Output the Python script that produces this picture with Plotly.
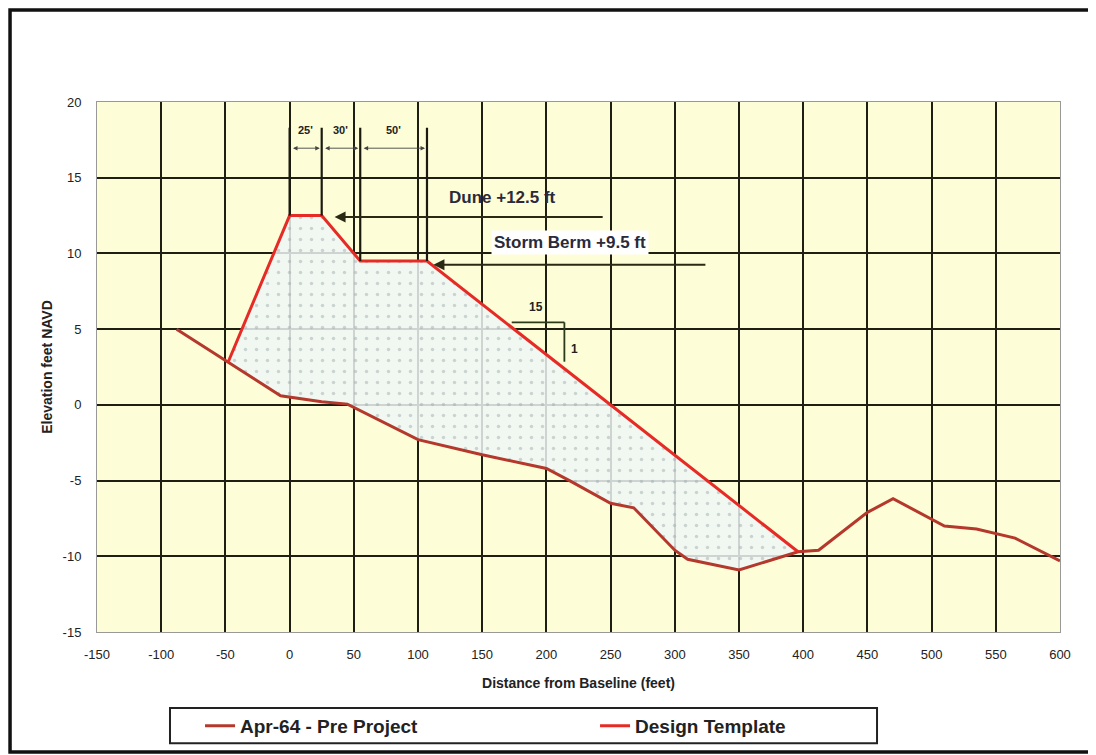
import plotly.graph_objects as go

# ---- data ----
pre_x = [-88, -48, -7, 25, 45, 100, 150, 200, 218, 250, 268, 300, 310, 350, 396, 412, 450, 470, 510, 535, 565, 600]
pre_y = [5.0, 2.8, 0.6, 0.2, 0.05, -2.3, -3.3, -4.2, -5.0, -6.5, -6.8, -9.6, -10.2, -10.9, -9.7, -9.6, -7.1, -6.2, -8.0, -8.2, -8.8, -10.3]

design_x = [-48, 0, 25, 55, 107, 250, 396]
design_y = [2.8, 12.5, 12.5, 9.5, 9.5, 0.0, -9.7]

x_ticks = list(range(-150, 601, 50))
y_ticks = list(range(-15, 21, 5))
x_tick_text = [str(v) for v in x_ticks]
y_tick_text = [str(v) for v in y_ticks]

dim_labels = ["25'", "30'", "50'"]
dune_label = "Dune +12.5 ft"
berm_label = "Storm Berm +9.5 ft"
slope_run_label = "15"
slope_rise_label = "1"

FONT = "Liberation Sans, Arial, sans-serif"
PRE_COLOR = "#b4382c"
DES_COLOR = "#e62b26"
GRID = "#1e1e12"

fig = go.Figure()

# shaded fill area between design template and pre-project profile
poly_x = list(design_x)
poly_y = list(design_y)
for xv, yv in reversed(list(zip(pre_x, pre_y))):
    if design_x[0] < xv < design_x[-1]:
        poly_x.append(xv)
        poly_y.append(yv)
poly_x.append(design_x[0])
poly_y.append(design_y[0])
fig.add_trace(go.Scatter(
    x=poly_x, y=poly_y, mode="none", fill="toself",
    fillcolor="rgba(238,247,247,0.84)",
    fillpattern=dict(shape=".", fgcolor="#a4b0b0", bgcolor="rgba(238,247,247,0.84)",
                     size=11, solidity=0.08),
    showlegend=False, hoverinfo="skip"))

fig.add_trace(go.Scatter(x=pre_x, y=pre_y, mode="lines", name="Apr-64 - Pre Project",
                         line=dict(color=PRE_COLOR, width=3)))
fig.add_trace(go.Scatter(x=design_x, y=design_y, mode="lines", name="Design Template",
                         line=dict(color=DES_COLOR, width=3)))

shapes = []
# vertical dimension marker lines at dune crest / berm breakpoints
top_mark = 18.3
for xv, yv in zip(design_x[1:5], design_y[1:5]):
    shapes.append(dict(type="line", xref="x", yref="y", x0=xv, x1=xv, y0=yv, y1=top_mark,
                       line=dict(color="#1a1a10", width=2.2)))
# slope triangle 15:1
shapes.append(dict(type="line", xref="x", yref="y", x0=173, x1=214, y0=5.45, y1=5.45,
                   line=dict(color="#2a3a1a", width=1.8)))
shapes.append(dict(type="line", xref="x", yref="y", x0=214, x1=214, y0=5.45, y1=2.85,
                   line=dict(color="#2a3a1a", width=1.8)))
# legend frame
shapes.append(dict(type="rect", xref="paper", yref="paper", x0=0.0758, x1=0.81, y0=-0.21, y1=-0.1434,
                   line=dict(color="#222", width=2), fillcolor="rgba(0,0,0,0)", layer="above"))
# outer frame
shapes.append(dict(type="rect", xref="paper", yref="paper", x0=-0.0903, x1=1.0312, y0=-0.2264, y1=1.1736,
                   line=dict(color="#111", width=3.5), fillcolor="rgba(0,0,0,0)"))

annotations = []
# dimension arrows and labels
bounds = design_x[1:5]
for (a, b), lab in zip(zip(bounds[:-1], bounds[1:]), dim_labels):
    annotations.append(dict(x=b - 1.5, y=16.95, ax=a + 1.5, ay=16.95, xref="x", yref="y",
                            axref="x", ayref="y", text="", showarrow=True, arrowside="end+start",
                            arrowhead=2, arrowsize=1, arrowwidth=0.9, arrowcolor="#444"))
    annotations.append(dict(x=(a + b) / 2, y=18.15, xref="x", yref="y", text=lab, showarrow=False,
                            font=dict(family=FONT, size=11, color="#222", weight="bold")))

# Dune / Berm arrows
annotations.append(dict(x=35, y=12.4, ax=245, ay=12.4, xref="x", yref="y", axref="x", ayref="y",
                        text="", showarrow=True, arrowhead=2, arrowsize=1.1, arrowwidth=2,
                        arrowcolor="#2a2a14"))
annotations.append(dict(x=112, y=9.25, ax=325, ay=9.25, xref="x", yref="y", axref="x", ayref="y",
                        text="", showarrow=True, arrowhead=2, arrowsize=1.1, arrowwidth=2,
                        arrowcolor="#2a2a14"))
annotations.append(dict(x=166, y=13.7, xref="x", yref="y", text=dune_label, showarrow=False,
                        font=dict(family=FONT, size=17, color="#2a2a3a", weight="bold")))
annotations.append(dict(x=218, y=10.7, xref="x", yref="y", text=berm_label, showarrow=False,
                        bgcolor="white", borderpad=2,
                        font=dict(family=FONT, size=17, color="#2a2a3a", weight="bold")))
annotations.append(dict(x=192, y=6.45, xref="x", yref="y", text=slope_run_label, showarrow=False,
                        font=dict(family=FONT, size=12, color="#222", weight="bold")))
annotations.append(dict(x=222, y=3.7, xref="x", yref="y", text=slope_rise_label, showarrow=False,
                        font=dict(family=FONT, size=12, color="#222", weight="bold")))

fig.update_layout(
    width=1096, height=755,
    margin=dict(l=89, r=44, t=94, b=131),
    paper_bgcolor="white",
    plot_bgcolor="#fdfdd7",
    font=dict(family=FONT, size=12, color="#222"),
    shapes=shapes,
    annotations=annotations,
    showlegend=True,
    legend=dict(orientation="h", x=0.107, xanchor="left", y=-0.177, yanchor="middle",
                entrywidth=350, entrywidthmode="pixels", bgcolor="rgba(0,0,0,0)",
                font=dict(family=FONT, size=19, color="#222", weight="bold"),
                itemwidth=30),
)
fig.update_xaxes(range=[-150, 600], tickvals=x_ticks, ticktext=x_tick_text, showgrid=True,
                 gridcolor=GRID, gridwidth=1.8,
                 zeroline=False, showline=True, linecolor="#999", linewidth=1, mirror=True,
                 ticks="", ticklabelstandoff=10,
                 tickfont=dict(family=FONT, size=13, color="#222"),
                 title=dict(text="Distance from Baseline (feet)", standoff=17,
                            font=dict(family=FONT, size=14, color="#222", weight="bold")))
fig.update_yaxes(range=[-15, 20], tickvals=y_ticks, ticktext=y_tick_text, showgrid=True,
                 gridcolor=GRID, gridwidth=1.8,
                 zeroline=False, showline=True, linecolor="#999", linewidth=1, mirror=True,
                 ticks="", ticklabelstandoff=12,
                 tickfont=dict(family=FONT, size=13, color="#222"),
                 title=dict(text="Elevation feet NAVD", standoff=6,
                            font=dict(family=FONT, size=14, color="#222", weight="bold")))

fig.write_html("out.html")
